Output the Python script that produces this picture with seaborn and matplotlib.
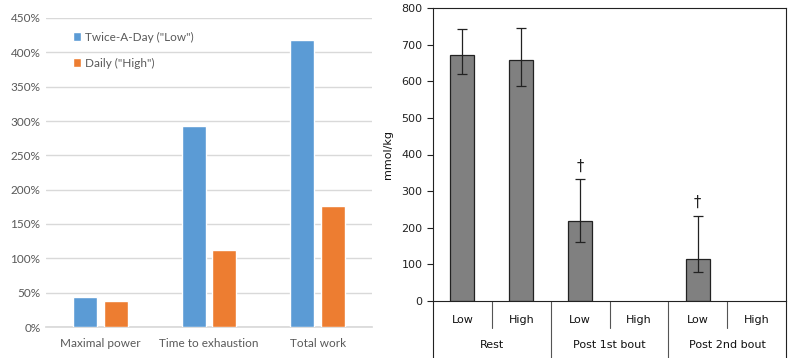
import pandas as pd
import matplotlib.pyplot as plt
import matplotlib.transforms as mtransforms
from matplotlib.ticker import FuncFormatter, MultipleLocator
import seaborn as sns

# ---- left panel data ----
measures = ["Maximal power", "Time to exhaustion", "Total work"]
groups = ['Twice-A-Day ("Low")', 'Daily ("High")']
low_pct = [44, 293, 418]
high_pct = [38, 112, 176]

# ---- right panel data ----
phases = ["Rest", "Post 1st bout", "Post 2nd bout"]
levels = ["Low", "High"]
glyco = [673, 657, 218, None, 115, None]
err_upper = [743, 746, 333, None, 233, None]
err_lower = [620, 588, 161, None, 79, None]
marks = ["", "", "†", "", "†", ""]

BLUE = "#5b9bd5"
ORANGE = "#ed7d31"
GREY_TXT = "#595959"

sns.set_theme(style="white")
plt.rcParams["font.family"] = ["DejaVu Sans"]

fig = plt.figure(figsize=(7.93, 3.58), dpi=100)
ax1 = fig.add_axes([46 / 793, 31 / 358, 326 / 793, 309 / 358])
ax2 = fig.add_axes([433 / 793, 57 / 358, 353 / 793, 293 / 358])

# ================= left: percent change =================
df1 = pd.DataFrame({
    "measure": measures * 2,
    "pct": low_pct + high_pct,
    "group": [groups[0]] * 3 + [groups[1]] * 3,
})
sns.barplot(data=df1, x="measure", y="pct", hue="group", order=measures,
            hue_order=groups, palette=[BLUE, ORANGE], width=0.57, gap=0.226,
            saturation=1, ax=ax1, zorder=3)
ax1.set_ylim(0, 450)
ax1.set_xlim(-0.5, 2.5)
ax1.yaxis.set_major_locator(MultipleLocator(50))
ax1.yaxis.set_major_formatter(FuncFormatter(lambda v, p: f"{v:.0f}%"))
ax1.grid(axis="y", color="#d9d9d9", lw=1, zorder=0)
ax1.set_axisbelow(True)
for s in ["left", "right", "top"]:
    ax1.spines[s].set_visible(False)
ax1.spines["bottom"].set_color("#d9d9d9")
ax1.set_xlabel("")
ax1.set_ylabel("")
ax1.tick_params(axis="both", length=0, labelsize=8.5, labelcolor=GREY_TXT)
ax1.tick_params(axis="x", pad=8)
ax1.tick_params(axis="y", pad=4)
for t in ax1.get_xticklabels() + ax1.get_yticklabels():
    t.set_family(["Lato", "DejaVu Sans"])
ax1.legend(frameon=False, loc="upper left", bbox_to_anchor=(0.05, 0.99),
           handlelength=0.7, handleheight=0.7, handletextpad=0.3,
           labelspacing=1.25, prop={"family": "Lato", "size": 8.5},
           labelcolor=GREY_TXT)

# ================= right: glycogen =================
xlabels = [f"{p}|{l}" for p in phases for l in levels]
df2 = pd.DataFrame({"cond": xlabels, "val": glyco})
sns.barplot(data=df2, x="cond", y="val", order=xlabels, color="#808080",
            saturation=1, width=0.41, edgecolor="#222222", linewidth=0.9,
            ax=ax2, zorder=2)

for i, (v, up, lo, m) in enumerate(zip(glyco, err_upper, err_lower, marks)):
    if v is None:
        continue
    ax2.errorbar(i, v, yerr=[[v - lo], [up - v]], fmt="none", ecolor="#222222",
                 elinewidth=0.9, capsize=3.5, capthick=0.9, zorder=3)
    if m:
        ax2.annotate(m, (i, up), xytext=(0, 4), textcoords="offset points",
                     ha="center", va="bottom", fontsize=10.5, color="#222222")

ax2.set_ylim(0, 800)
ax2.set_xlim(-0.5, len(xlabels) - 0.5)
ax2.yaxis.set_major_locator(MultipleLocator(100))
ax2.set_xticks(range(len(xlabels)))
ax2.set_xticklabels([])
ax2.tick_params(axis="x", length=0)
ax2.tick_params(axis="y", direction="out", length=4, width=0.8, labelsize=8,
                colors="#222222", left=True)
for s in ax2.spines.values():
    s.set_color("#222222")
    s.set_linewidth(0.8)
ax2.set_xlabel("")
ax2.set_ylabel("mmol/kg", fontsize=8, color="#111111", labelpad=6)

# two-level category axis
trans = mtransforms.blended_transform_factory(ax2.transData, ax2.transAxes)
for i, lab in enumerate(xlabels):
    ax2.text(i, -0.065, lab.split("|")[1], transform=trans, ha="center",
             va="center", fontsize=8, color="#111111")
for j, ph in enumerate(phases):
    ax2.text(j * 2 + 0.5, -0.15, ph, transform=trans, ha="center",
             va="center", fontsize=8, color="#111111")
for k in range(1, len(xlabels)):
    y_end = -0.195 if k % 2 == 0 else -0.092
    ax2.plot([k - 0.5, k - 0.5], [0, y_end], transform=trans, clip_on=False,
             color="#555555", lw=0.8)
for k in [-0.5, len(xlabels) - 0.5]:
    ax2.plot([k, k], [0, -0.195], transform=trans, clip_on=False,
             color="#222222", lw=0.8)

fig.savefig("out.png", dpi=100)
